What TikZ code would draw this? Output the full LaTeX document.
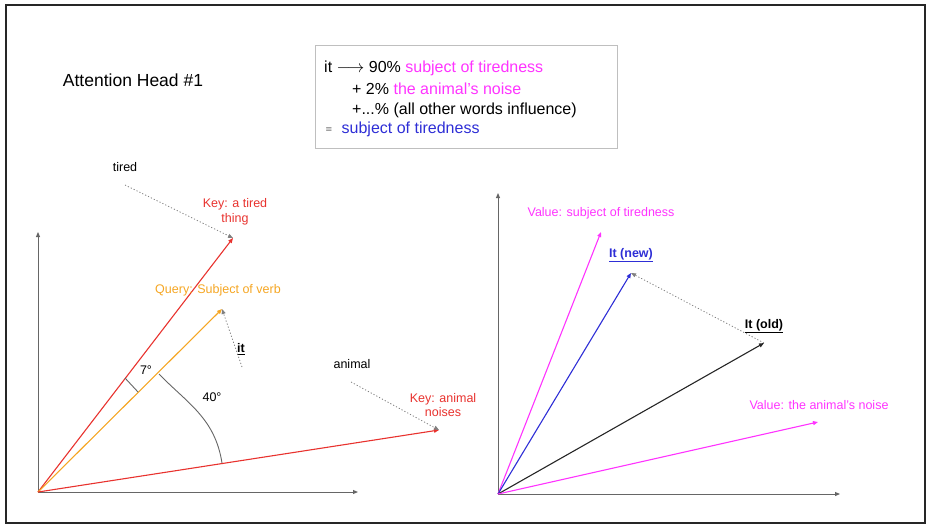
\documentclass[tikz,border=0pt]{standalone}
\usepackage{fontspec}
\setmainfont{Liberation Sans}
\usetikzlibrary{arrows.meta}
\definecolor{keyred}{HTML}{E8322E}
\definecolor{queryorange}{HTML}{F5A623}
\definecolor{valmag}{HTML}{FF33FF}
\definecolor{itblue}{HTML}{2E2ED6}
\definecolor{axisgray}{HTML}{666666}

\begin{document}
\begin{tikzpicture}[x=1pt, y=-1pt,
    >={Triangle[length=5pt,width=4pt]},
    vec/.style={->, line width=1.1pt},
    axis/.style={->, axisgray, line width=0.9pt},
    pointer/.style={->, gray, line width=0.8pt, dash pattern=on 1.2pt off 2pt},
    lbl/.style={font=\fontsize{12.5}{14.5}\selectfont, align=center, inner sep=1pt},
    boxtxt/.style={font=\fontsize{16}{19}\selectfont, inner sep=0pt, anchor=base west}]
  \useasboundingbox (0,0) rectangle (933,528);
  \draw[line width=2pt, black!85] (6,5) rectangle (925,523);

  \node[font=\fontsize{17.5}{21}\selectfont] (head) at (133,80) {Attention Head \#1};

  % summary box
  \node[draw=gray!50, line width=0.8pt, minimum width=302pt, minimum height=103pt] (box) at (466,96.5) {};
  \node[boxtxt] (line1) at (324,72.5) {it $\longrightarrow$ 90\% \textcolor{valmag}{subject of tiredness}};
  \node[boxtxt] (line2) at (352,94) {+ 2\% \textcolor{valmag}{the animal’s noise}};
  \node[boxtxt] (line3) at (352,114) {+...\% (all other words influence)};
  \node[boxtxt, font=\fontsize{8}{8}\selectfont] (equiv) at (325.5,131) {$\equiv$};
  \node[boxtxt, text=itblue] (line4) at (341.5,133.5) {subject of tiredness};

  % left: keys and query
  \coordinate (O1) at (38,492);
  \coordinate (tiredtip) at (233,238);
  \coordinate (querytip) at (222,309);
  \coordinate (animaltip) at (439,430);
  \draw[axis] (O1) -- (38,232);
  \draw[axis] (O1) -- (358,492);
  \draw[vec, keyred] (O1) -- (tiredtip);
  \draw[vec, queryorange] (O1) -- (querytip);
  \draw[vec, keyred] (O1) -- (animaltip);

  \node[lbl] (tired) at (125,167) {tired};
  \node[lbl, text=keyred] (keytired) at (235,212) {Key: a tired\\thing};
  \node[lbl, text=queryorange] (query) at (218,290) {Query: Subject of verb};
  \node[lbl, font=\fontsize{12.5}{14.5}\selectfont\bfseries] (it) at (241,349) {\underline{it}};
  \node[lbl] (animal) at (352,364) {animal};
  \node[lbl, text=keyred] (keyanimal) at (443,405) {Key: animal\\noises};
  \coordinate (tiredfrom) at (125,185);
  \coordinate (itfrom) at (242,367);
  \coordinate (animalfrom) at (351,382);
  \draw[pointer] (tiredfrom) -- (tiredtip);
  \draw[pointer] (itfrom) -- (querytip);
  \draw[pointer] (animalfrom) -- (animaltip);

  % angles
  \draw[axisgray, line width=0.9pt] (125,378) -- (138,392);
  \draw[axisgray, line width=0.9pt] (159,374) .. controls (187,403) and (215,418) .. (222,463);
  \node[lbl] (seven) at (146,370) {7°};
  \node[lbl] (forty) at (212,397) {40°};

  % right: values and output
  \coordinate (O2) at (498,494);
  \coordinate (tirednessvtip) at (601,232);
  \coordinate (newtip) at (631,273);
  \coordinate (oldtip) at (764,343);
  \coordinate (noisevtip) at (818,422);
  \draw[axis] (O2) -- (498,193);
  \draw[axis] (O2) -- (840,494);
  \draw[vec, valmag] (O2) -- (tirednessvtip);
  \draw[vec, itblue] (O2) -- (newtip);
  \draw[vec, black!85] (O2) -- (oldtip);
  \draw[vec, valmag] (O2) -- (noisevtip);
  \draw[pointer] (oldtip) -- (newtip);

  \node[lbl, text=valmag] (valtired) at (601,213) {Value: subject of tiredness};
  \node[lbl, font=\fontsize{12.5}{14.5}\selectfont\bfseries, text=itblue] (itnew) at (631,255) {\underline{It (new)}};
  \node[lbl, font=\fontsize{12.5}{14.5}\selectfont\bfseries] (itold) at (764,326) {\underline{It (old)}};
  \node[lbl, text=valmag] (valnoise) at (819,405) {Value: the animal’s noise};
\end{tikzpicture}
\end{document}
